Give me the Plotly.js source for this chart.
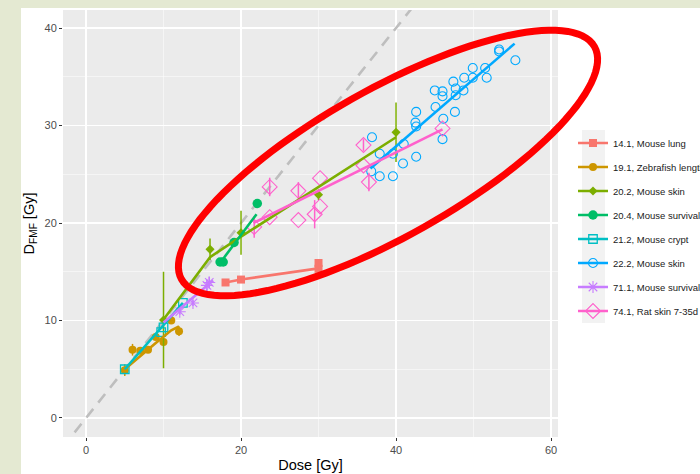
<!DOCTYPE html>
<html><head><meta charset="utf-8">
<script src="https://cdn.plot.ly/plotly-3.0.1.min.js"></script>
<style>
html,body{margin:0;padding:0;background:#e4e9d2;width:700px;height:474px;overflow:hidden;}
#chart{position:absolute;left:21px;top:8px;width:679px;height:466px;background:#fff;}
</style></head><body><div id="chart"></div>
<script>
// ---- data ----
const seriesNames = ["14.1, Mouse lung","19.1, Zebrafish length","20.2, Mouse skin","20.4, Mouse survival",
  "21.2, Mouse crypt","22.2, Mouse skin","71.1, Mouse survival","74.1, Rat skin 7-35d"];

const identityX = [-3, 61];

const lungX = [18, 20, 30, 30];
const lungY = [13.9, 14.2, 15.3, 15.9];
const lungErr = [0, 0, 0, 0];
const lungFitX = [18, 20, 30];
const lungFitY = [13.9, 14.2, 15.35];

const zfX = [5, 6, 7, 8, 9, 10, 11, 12];
const zfY = [4.9, 7.0, 6.9, 7.0, 8.3, 7.8, 10.0, 8.9];
const zfErr = [0.6, 0.6, 0.3, 0.3, 0.3, 0.3, 0.3, 0.5];
const zfFitX = [5, 7, 9, 11, 12];
const zfFitY = [5.0, 6.4, 7.7, 9.0, 9.4];

const skinAX = [10, 16, 20, 30, 40];
const skinAY = [10.05, 17.3, 19.0, 22.9, 29.3];
const skinAErr = [4.95, 1.1, 2.25, 0.55, 3.05];
const skinAFitX = [10, 16, 20, 30, 40];
const skinAFitY = [10.1, 16.5, 18.6, 23.7, 28.8];

const survAX = [17.3, 17.7, 19.1, 22.1];
const survAY = [16.0, 16.0, 18.0, 22.0];
const survAErr = [0, 0, 0, 0];
const survAFitX = [17.2, 22];
const survAFitY = [15.8, 20.9];

const cryptX = [5, 9.7, 10, 12.5];
const cryptY = [5.0, 8.8, 9.3, 11.8];
const cryptErr = [0, 0, 0, 0];
const cryptFitX = [5, 12.5];
const cryptFitY = [5.0, 11.8];

const skinBX = [36.9, 37.9, 39.6, 36.8, 37.9, 39.6, 40.9, 41.0, 42.6, 42.6, 42.5, 42.6, 45.1, 46.1, 46.0, 47.6,
  46.0, 46.0, 45.0, 47.4, 47.7, 47.7, 48.7, 48.8, 49.9, 49.9, 51.5, 51.7, 53.3, 53.3, 55.4];
const skinBY = [28.8, 27.1, 27.1, 25.3, 24.8, 24.8, 26.1, 28.1, 26.8, 29.9, 30.3, 31.4, 31.9, 30.7, 28.6, 31.4,
  33.0, 33.5, 33.6, 34.5, 33.8, 33.1, 33.6, 34.9, 34.9, 35.9, 35.9, 34.9, 37.8, 37.6, 36.7];
const skinBFitX = [36.7, 55.3];
const skinBFitY = [25.6, 38.4];

const survBX = [12.1, 13.8, 15.6, 15.9];
const survBY = [10.9, 11.8, 13.6, 13.9];
const survBErr = [0.3, 0.3, 0.6, 0.6];
const survBFitX = [10, 16.4];
const survBFitY = [9.8, 14.1];

const ratX = [21.7, 23.7, 23.7, 27.4, 27.4, 30.2, 30.2, 29.5, 35.8, 35.8, 36.5, 46.0];
const ratY = [19.6, 23.7, 20.6, 23.3, 20.3, 24.6, 21.7, 20.9, 28.0, 25.9, 24.2, 29.7];
const ratErr = [1.1, 0.95, 0, 0.9, 0, 0, 0, 1.45, 0.6, 0, 0.95, 0];
const ratFitX = [21.6, 46];
const ratFitY = [20.0, 29.6];

// ---- styles ----
const colors = ["#F8766D","#CD9600","#7CAE00","#00BE67","#00BFC4","#00A9FF","#C77CFF","#FF61CC"];
const markers = [
  {symbol:"square", size:8},
  {symbol:"circle", size:8},
  {symbol:"diamond", size:7},
  {symbol:"circle", size:9.5},
  {symbol:"square-open", size:8.5, line:{width:1.3}},
  {symbol:"circle-open", size:9, line:{width:1.1}},
  {symbol:"asterisk-open", size:10, line:{width:1.1}},
  {symbol:"diamond-open", size:11.5, line:{width:1.1}}
];
const pointSets = [
  [lungX, lungY, lungErr], [zfX, zfY, zfErr], [skinAX, skinAY, skinAErr], [survAX, survAY, survAErr],
  [cryptX, cryptY, cryptErr], [skinBX, skinBY, null], [survBX, survBY, survBErr], [ratX, ratY, ratErr]
];
const fitSets = [
  [lungFitX, lungFitY], [zfFitX, zfFitY], [skinAFitX, skinAFitY], [survAFitX, survAFitY],
  [cryptFitX, cryptFitY], [skinBFitX, skinBFitY], [survBFitX, survBFitY], [ratFitX, ratFitY]
];
const LW = 2.6;

const traces = [];
traces.push({x: identityX, y: identityX, mode: "lines", showlegend: false, hoverinfo: "skip",
  line: {color: "#bebebe", width: 2.6, dash: "11px,8px"}});

for (let i = 0; i < seriesNames.length; i++) {
  const [px, py, pe] = pointSets[i];
  const mk = Object.assign({color: colors[i]}, markers[i]);
  if (mk.line) mk.line = Object.assign({color: colors[i]}, mk.line);
  const t = {x: px, y: py, mode: "markers", marker: mk, name: seriesNames[i],
    legendgroup: "g" + i, showlegend: false};
  if (pe) t.error_y = {type: "data", array: pe, visible: true, width: 0, thickness: 1.5, color: colors[i]};
  traces.push(t);
}
for (let i = 0; i < seriesNames.length; i++) {
  const [fx, fy] = fitSets[i];
  traces.push({x: fx, y: fy, mode: "lines", line: {color: colors[i], width: LW},
    name: seriesNames[i], legendgroup: "g" + i, showlegend: false});
}
// legend entries (line + marker key)
for (let i = 0; i < seriesNames.length; i++) {
  const mk = Object.assign({color: colors[i]}, markers[i]);
  if (mk.line) mk.line = Object.assign({color: colors[i]}, mk.line);
  traces.push({x: [null], y: [null], mode: "lines+markers", name: seriesNames[i], legendgroup: "g" + i,
    line: {color: colors[i], width: LW}, marker: mk, showlegend: true});
}

// ---- annotation ellipse (pixel geometry inside the chart div) ----
const plotL = 42, plotT = 2, plotW = 495, plotH = 427;
const ell = {cx: 367, cy: 155, a: 237, b: 73.5, deg: 29.4};
function toPaper(x, y) { return [(x - plotL) / plotW, (plotT + plotH - y) / plotH]; }
let path = "";
const th = ell.deg * Math.PI / 180;
for (let k = 0; k <= 120; k++) {
  const t = k / 120 * 2 * Math.PI;
  const x = ell.cx + ell.a * Math.cos(t) * Math.cos(th) + ell.b * Math.sin(t) * Math.sin(th);
  const y = ell.cy - ell.a * Math.cos(t) * Math.sin(th) + ell.b * Math.sin(t) * Math.cos(th);
  const p = toPaper(x, y);
  path += (k === 0 ? "M" : "L") + p[0].toFixed(5) + "," + p[1].toFixed(5);
}
path += "Z";
const keyA = toPaper(561, 315), keyB = toPaper(584, 122);

const font = "Liberation Sans, Arial, sans-serif";
const layout = {
  width: 679, height: 466,
  margin: {l: plotL, r: 679 - plotL - plotW, t: plotT, b: 466 - plotT - plotH, autoexpand: false},
  paper_bgcolor: "#ffffff", plot_bgcolor: "#ebebeb",
  font: {family: font, color: "#4d4d4d"},
  xaxis: {range: [-2.97, 60.9], dtick: 20, tick0: 0, showgrid: true, gridcolor: "#ffffff", gridwidth: 1.1,
    minor: {dtick: 10, showgrid: true, gridcolor: "#ffffff", gridwidth: 0.5},
    zeroline: false, ticks: "outside", ticklen: 3, tickcolor: "#333333", tickwidth: 1,
    tickfont: {size: 11, color: "#4d4d4d", family: font},
    title: {text: "Dose [Gy]", font: {size: 14.5, color: "#000000", family: font}, standoff: 4}},
  yaxis: {range: [-1.95, 41.85], dtick: 10, tick0: 0, showgrid: true, gridcolor: "#ffffff", gridwidth: 1.1,
    minor: {dtick: 5, showgrid: true, gridcolor: "#ffffff", gridwidth: 0.5},
    zeroline: false, ticks: "outside", ticklen: 3, tickcolor: "#333333", tickwidth: 1,
    tickfont: {size: 11, color: "#4d4d4d", family: font},
    title: {text: "D<sub>FMF</sub> [Gy]", font: {size: 14.5, color: "#000000", family: font}, standoff: 6}},
  showlegend: true,
  legend: {x: (552 - plotL) / plotW, y: (plotT + plotH - 120.5) / plotH, xanchor: "left", yanchor: "top",
    bgcolor: "rgba(0,0,0,0)", font: {size: 9.5, color: "#1a1a1a", family: font},
    traceorder: "grouped", tracegroupgap: 5, itemwidth: 30, itemclick: false, itemdoubleclick: false},
  shapes: [
    {type: "rect", xref: "paper", yref: "paper", x0: keyA[0], y0: keyA[1], x1: keyB[0], y1: keyB[1],
      fillcolor: "#f2f2f2", line: {width: 0}, layer: "above"},
    {type: "path", xref: "paper", yref: "paper", path: path, line: {color: "#ff0000", width: 7}, layer: "above"}
  ]
};
Plotly.newPlot("chart", traces, layout, {displayModeBar: false, staticPlot: true});
</script></body></html>
